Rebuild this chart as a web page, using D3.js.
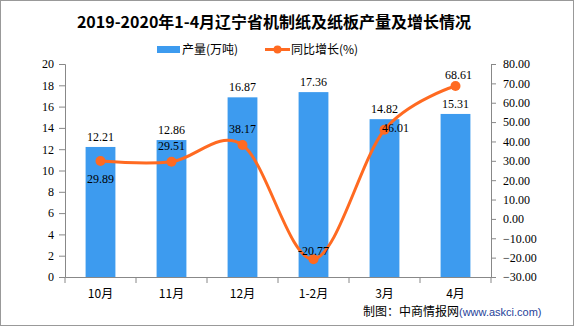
<!DOCTYPE html>
<html><head><meta charset="utf-8">
<script src="https://cdn.jsdelivr.net/npm/d3@7"></script>
<style>body{margin:0;background:#fff}svg{display:block}</style>
</head><body>
<svg id="c" width="576" height="327"></svg>
<script>
const categories = ["10月","11月","12月","1-2月","3月","4月"];
const production = [12.21,12.86,16.87,17.36,14.82,15.31];
const growth = [29.89,29.51,38.17,-20.77,46.01,68.61];
const leftTicks = [0,2,4,6,8,10,12,14,16,18,20];
const rightTicks = [-30,-20,-10,0,10,20,30,40,50,60,70,80];

const svg = d3.select("#c");
const numFont = "'Liberation Serif', serif";
const cjkFont = "'Noto Sans CJK SC', sans-serif";
const axisColor = "#888";
const barColor = "#3d9bef";
const lineColor = "#ff6a21";

svg.append("rect").attr("x",0.5).attr("y",0.5).attr("width",573).attr("height",325)
  .attr("fill","#fff").attr("stroke","#999");

const L = 65, R = 491, T = 64, B = 277;
const x = d3.scaleBand().domain(categories).range([L,R]).paddingInner(0.58).paddingOuter(0.29);
const band = d3.scaleBand().domain(categories).range([L,R]);
const yL = d3.scaleLinear().domain([0,20]).range([B,T]);
const yR = d3.scaleLinear().domain([-30,80]).range([B,T]);

// title
svg.append("text").attr("x",274).attr("y",28).attr("text-anchor","middle")
  .attr("font-family",cjkFont).attr("font-weight","bold").attr("font-size",16).attr("fill","#000")
  .text("2019-2020年1-4月辽宁省机制纸及纸板产量及增长情况");

// legend
svg.append("rect").attr("x",157).attr("y",46).attr("width",23).attr("height",7).attr("fill",barColor);
svg.append("text").attr("x",182).attr("y",54).attr("font-family",cjkFont).attr("font-size",12).text("产量(万吨)");
svg.append("line").attr("x1",265).attr("x2",290).attr("y1",49.5).attr("y2",49.5).attr("stroke",lineColor).attr("stroke-width",3);
svg.append("circle").attr("cx",277.5).attr("cy",49.5).attr("r",4).attr("fill",lineColor);
svg.append("text").attr("x",291).attr("y",54).attr("font-family",cjkFont).attr("font-size",12).text("同比增长(%)");

// axes
const gL = svg.append("g").attr("transform",`translate(${L},0)`)
  .call(d3.axisLeft(yL).tickValues(leftTicks).tickSize(6).tickPadding(5));
const gR = svg.append("g").attr("transform",`translate(${R},0)`)
  .call(d3.axisRight(yR).tickValues(rightTicks).tickSize(5).tickPadding(7).tickFormat(d3.format(".2f")));
const gB = svg.append("g").attr("transform",`translate(0,${B})`)
  .call(d3.axisBottom(band).tickSize(0).tickPadding(12));
gB.selectAll(".tick line").remove();
[gL,gR,gB].forEach(g=>{
  g.select(".domain").attr("stroke",axisColor);
  g.selectAll(".tick line").attr("stroke",axisColor);
  g.selectAll("text").attr("fill","#000").attr("font-size",12).attr("font-family",numFont);
});
gB.selectAll("text").attr("font-family",cjkFont).attr("font-size",12);
// band boundary ticks on bottom
svg.append("g").selectAll("line").data(categories.concat(["end"])).join("line")
  .attr("x1",(d,i)=> i<categories.length ? band(d) : R)
  .attr("x2",(d,i)=> i<categories.length ? band(d) : R)
  .attr("y1",B).attr("y2",B+6).attr("stroke",axisColor);

// bars
svg.append("g").selectAll("rect").data(production).join("rect")
  .attr("x",(d,i)=>x(categories[i])).attr("width",x.bandwidth())
  .attr("y",d=>yL(d)).attr("height",d=>B-yL(d)).attr("fill",barColor);
svg.append("g").selectAll("text").data(production).join("text")
  .attr("x",(d,i)=>x(categories[i])+x.bandwidth()/2).attr("y",d=>yL(d)-6)
  .attr("text-anchor","middle").attr("font-family",numFont).attr("font-size",12)
  .text(d=>d.toFixed(2));

// line
const cx = (i)=> band(categories[i]) + band.bandwidth()/2;
const line = d3.line().x((d,i)=>cx(i)).y(d=>yR(d)).curve(d3.curveCardinal.tension(0));
svg.append("path").datum(growth).attr("d",line).attr("fill","none")
  .attr("stroke",lineColor).attr("stroke-width",3);
svg.append("g").selectAll("circle").data(growth).join("circle")
  .attr("cx",(d,i)=>cx(i)).attr("cy",d=>yR(d)).attr("r",5).attr("fill",lineColor);

// line labels: offsets (dx, dy)
const offs = [[0,22],[0,-12],[0,-12],[0,-4],[11,2],[3,-7]];
svg.append("g").selectAll("text").data(growth).join("text")
  .attr("x",(d,i)=>cx(i)+offs[i][0]).attr("y",(d,i)=>yR(d)+offs[i][1])
  .attr("text-anchor","middle").attr("font-family",numFont).attr("font-size",12)
  .text(d=>d.toFixed(2));

// footer
const f = svg.append("text").attr("x",363).attr("y",316).attr("font-size",12).attr("font-family",cjkFont);
f.append("tspan").attr("fill","#000").text("制图：中商情报网");
f.append("tspan").attr("fill","#1f3f9a").attr("font-family","'Liberation Sans', sans-serif").attr("font-size",11).text("(www.askci.com)");
</script>
</body></html>
